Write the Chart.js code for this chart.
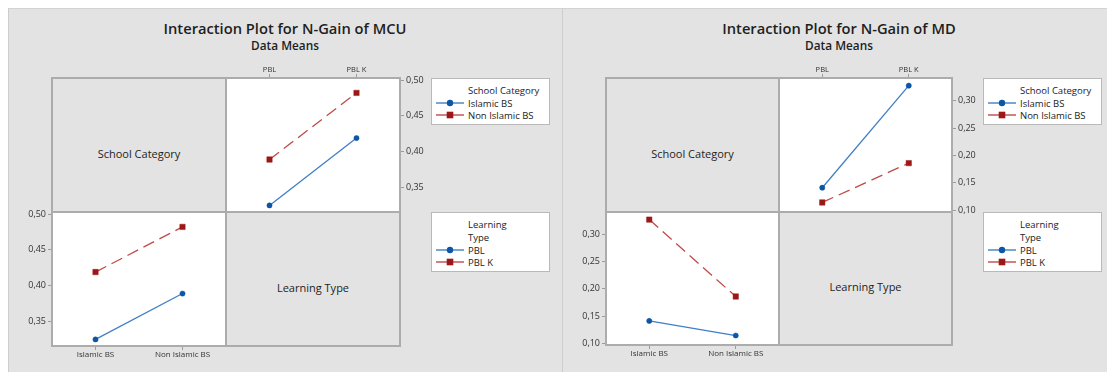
<!DOCTYPE html>
<html lang="en">
<head>
<meta charset="utf-8">
<title>Interaction Plots for N-Gain</title>
<script src="https://cdn.jsdelivr.net/npm/chart.js@4.4.1/dist/chart.umd.min.js"></script>
<style>
  html, body { margin: 0; padding: 0; background: #ffffff; }
  #stage { position: relative; width: 1107px; height: 372px; overflow: hidden;
           font-family: 'Open Sans', 'Noto Sans', sans-serif; color: #1e1e1e; }
  .fig { position: absolute; background: #e3e3e3; box-sizing: border-box; }
  .title { position: absolute; text-align: center; white-space: nowrap; font-weight: 600; }
  .panel { position: absolute; background: #ffffff; z-index: 1; }
  .cellLabel { position: absolute; text-align: center; white-space: nowrap; font-size: 11px; line-height: 14px; z-index: 2; }
  .rule { position: absolute; background: #acacac; z-index: 5; }
  .legend { position: absolute; background: #ffffff; border: 1px solid #b9b9b9; box-sizing: border-box; z-index: 5; }
  .legend .row { position: absolute; white-space: nowrap; font-size: 9.5px; line-height: 12px; color: #222; }
  .legend svg { position: absolute; }
  canvas { position: absolute; z-index: 3; }
</style>
</head>
<body>
<div id="stage"></div>
<script>
// Factor levels
const learningTypes = ['PBL', 'PBL K'];
const schoolCategories = ['Islamic BS', 'Non Islamic BS'];

// Mean N-Gain for each school category, in learningTypes order
const mcuIslamicBS    = [0.325, 0.419];
const mcuNonIslamicBS = [0.389, 0.482];
const mdIslamicBS     = [0.141, 0.328];
const mdNonIslamicBS  = [0.114, 0.186];

// Value-axis tick labels
const mcuTicks = [0.35, 0.40, 0.45, 0.50];
const mdTicks  = [0.10, 0.15, 0.20, 0.25, 0.30];

const FONT = "'Open Sans', 'Noto Sans', sans-serif";

// First level drawn as blue solid line with dots, second as red dashed line with squares
const styles = [
  { line: '#3f7fc6', mark: '#0b56a6', dash: [],      pointStyle: 'circle', radius: 2.6 },
  { line: '#bf4a4a', mark: '#9d1717', dash: [12, 6], pointStyle: 'rect',   radius: 3.8 }
];

const figures = [
  { title: 'Interaction Plot for N-Gain of MCU', islamic: mcuIslamicBS, nonIslamic: mcuNonIslamicBS,
    ticks: mcuTicks, min: 0.3158, max: 0.5028,
    frame: { x: 8, y: 8, w: 555, h: 364 }, titleX: 285,
    mx: [52, 226, 400], my: [78, 212, 346], legendX: 431 },
  { title: 'Interaction Plot for N-Gain of MD', islamic: mdIslamicBS, nonIslamic: mdNonIslamicBS,
    ticks: mdTicks, min: 0.0965, max: 0.342,
    frame: { x: 562, y: 8, w: 545, h: 364 }, titleX: 839,
    mx: [606, 779, 952], my: [78, 212, 345], legendX: 983 }
];

const stage = document.getElementById('stage');

function el(cls, css, html) {
  const d = document.createElement('div');
  d.className = cls;
  Object.assign(d.style, css);
  if (html !== undefined) d.innerHTML = html;
  stage.appendChild(d);
  return d;
}

const fmt = v => v.toFixed(2).replace('.', ',');

function makePanel(rect, xLabels, series, xPos, yPos, fig) {
  const AX = { top: 18, bottom: 20, left: 46, right: 40 };
  const PAD = 8;
  const padL = yPos === 'left' ? AX.left : PAD;
  const padR = yPos === 'right' ? AX.right : PAD;
  const padT = xPos === 'top' ? AX.top : PAD;
  const padB = xPos === 'bottom' ? AX.bottom : PAD;

  const cv = document.createElement('canvas');
  cv.width = rect.w + padL + padR;
  cv.height = rect.h + padT + padB;
  cv.style.left = (rect.x - padL) + 'px';
  cv.style.top = (rect.y - padT) + 'px';
  cv.style.width = cv.width + 'px';
  cv.style.height = cv.height + 'px';
  stage.appendChild(cv);

  const grid = { drawOnChartArea: false, drawTicks: true, tickLength: 4, color: '#9b9b9b', lineWidth: 1 };

  new Chart(cv, {
    type: 'line',
    data: {
      labels: xLabels,
      datasets: series.map((s, i) => ({
        label: s.name,
        data: s.values,
        borderColor: styles[i].line,
        backgroundColor: styles[i].mark,
        borderWidth: 1.3,
        borderDash: styles[i].dash,
        tension: 0,
        fill: false,
        pointStyle: styles[i].pointStyle,
        pointRadius: styles[i].radius,
        pointBackgroundColor: styles[i].mark,
        pointBorderColor: styles[i].mark,
        pointBorderWidth: 0.5
      }))
    },
    options: {
      responsive: false,
      animation: false,
      events: [],
      layout: {
        autoPadding: false,
        padding: {
          left: yPos === 'left' ? 0 : PAD, right: yPos === 'right' ? 0 : PAD,
          top: xPos === 'top' ? 0 : PAD, bottom: xPos === 'bottom' ? 0 : PAD
        }
      },
      plugins: { legend: { display: false }, tooltip: { enabled: false } },
      scales: {
        x: {
          type: 'category', position: xPos, offset: true,
          grid: grid, border: { display: false },
          ticks: { font: { family: FONT, size: xPos === 'top' ? 7.5 : 8 }, color: '#333',
                   padding: 0, maxRotation: 0, autoSkip: false },
          afterFit: s => { s.height = AX[xPos]; }
        },
        y: {
          type: 'linear', position: yPos, min: fig.min, max: fig.max,
          grid: grid, border: { display: false },
          afterBuildTicks: s => { s.ticks = fig.ticks.map(v => ({ value: v })); },
          ticks: { font: { family: FONT, size: 9 }, color: '#333', padding: 2, callback: v => fmt(v) },
          afterFit: s => { s.width = AX[yPos]; }
        }
      }
    }
  });
}

function symbolSvg(st, top) {
  const mark = st.pointStyle === 'circle'
    ? `<circle cx="14" cy="5" r="3.2" fill="${st.mark}"/>`
    : `<rect x="10.7" y="1.7" width="6.6" height="6.6" fill="${st.mark}"/>`;
  return `<svg width="28" height="10" style="left:4px;top:${top}px">` +
         `<line x1="0" y1="5" x2="28" y2="5" stroke="${st.line}" stroke-width="1.4"/>${mark}</svg>`;
}

function makeLegend(x, y, h, titleLines, names) {
  const box = el('legend', { left: x + 'px', top: y + 'px', width: '119px', height: h + 'px' });
  let html = '';
  let c = 11.5;
  titleLines.forEach(t => { html += `<div class="row" style="left:36px;top:${c - 6}px">${t}</div>`; c += 13; });
  names.forEach((n, i) => {
    html += symbolSvg(styles[i], c - 6);
    html += `<div class="row" style="left:36px;top:${c - 6}px">${n}</div>`;
    c += 12.7;
  });
  box.innerHTML = html;
}

figures.forEach(fig => {
  const f = fig.frame;
  el('fig', { left: f.x + 'px', top: f.y + 'px', width: f.w + 'px', height: f.h + 'px',
              borderLeft: '1px solid #cdcdcd', borderTop: '1px solid #d3d3d3' });

  el('title', { left: (fig.titleX - 250) + 'px', width: '500px', top: '17.5px', fontSize: '14.7px', lineHeight: '20px' }, fig.title);
  el('title', { left: (fig.titleX - 250) + 'px', width: '500px', top: '37px', fontSize: '11.8px', lineHeight: '16px' }, 'Data Means');

  const [x0, x1, x2] = fig.mx;
  const [y0, y1, y2] = fig.my;

  // White plotting cells
  el('panel', { left: x1 + 'px', top: y0 + 'px', width: (x2 - x1) + 'px', height: (y1 - y0) + 'px' });
  el('panel', { left: x0 + 'px', top: y1 + 'px', width: (x1 - x0) + 'px', height: (y2 - y1) + 'px' });

  // Factor names in the diagonal cells
  el('cellLabel', { left: x0 + 'px', width: (x1 - x0) + 'px', top: ((y0 + y1) / 2 + 8.5 - 7) + 'px' }, 'School Category');
  el('cellLabel', { left: x1 + 'px', width: (x2 - x1) + 'px', top: ((y1 + y2) / 2 + 8.5 - 7) + 'px' }, 'Learning Type');

  // Matrix rules
  [x0, x1, x2].forEach(x => el('rule', { left: (x - 1) + 'px', top: (y0 - 1) + 'px', width: '2px', height: (y2 - y0 + 2) + 'px' }));
  [y0, y1, y2].forEach(y => el('rule', { left: (x0 - 1) + 'px', top: (y - 1) + 'px', width: (x2 - x0 + 2) + 'px', height: '2px' }));

  // Top-right: x = learning type, one line per school category
  makePanel({ x: x1, y: y0, w: x2 - x1, h: y1 - y0 }, learningTypes,
    [{ name: schoolCategories[0], values: fig.islamic }, { name: schoolCategories[1], values: fig.nonIslamic }],
    'top', 'right', fig);

  // Bottom-left: x = school category, one line per learning type
  makePanel({ x: x0, y: y1, w: x1 - x0, h: y2 - y1 }, schoolCategories,
    learningTypes.map((lt, j) => ({ name: lt, values: [fig.islamic[j], fig.nonIslamic[j]] })),
    'bottom', 'left', fig);

  makeLegend(fig.legendX, 78, 47, ['School Category'], schoolCategories);
  makeLegend(fig.legendX, 212, 60, ['Learning', 'Type'], learningTypes);
});
</script>
</body>
</html>
